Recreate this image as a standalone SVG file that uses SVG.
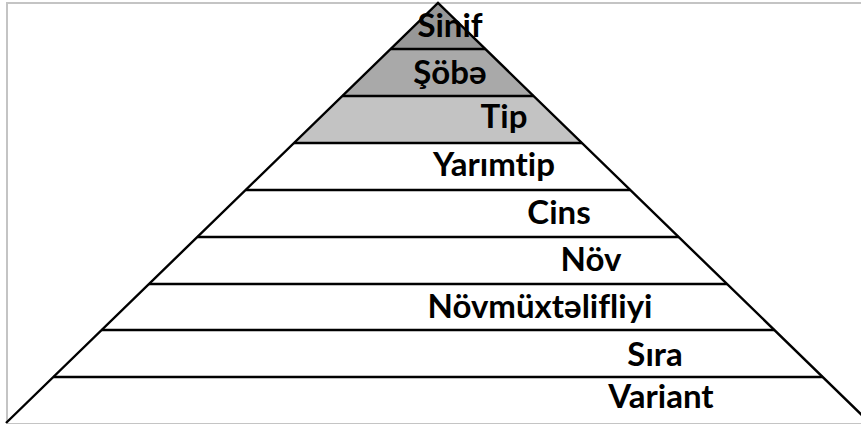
<svg xmlns="http://www.w3.org/2000/svg" width="861" height="427" viewBox="0 0 861 427">
<style>
.lbl{font-family:Lato,"Liberation Sans",sans-serif;font-weight:bold;font-size:33px;fill:#000;text-anchor:middle;font-variant-ligatures:none}
.band{stroke:none}
.edge{stroke:#000;stroke-width:2.4;fill:none}
.frame{stroke:#c4c4c4;stroke-width:2;fill:none}
</style>
<rect width="861" height="427" fill="#fff"/>
<g id="frame"><path class="frame" d="M7,423 V3 H861 M7,423 H861"/></g>
<g id="sinif"><polygon class="band" fill="#979797" points="438,3 485.3,49 390.7,49"/><text class="lbl" x="450" y="37">Sinif</text></g>
<g id="sobe"><polygon class="band" fill="#a9a9a9" points="390.7,49 485.3,49 533.7,96 342.3,96"/><text class="lbl" x="450" y="84">Şöbə</text></g>
<g id="tip"><polygon class="band" fill="#c3c3c3" points="342.3,96 533.7,96 582,143 294,143"/><text class="lbl" x="504" y="128">Tip</text></g>
<g id="yarimtip"><polygon class="band" fill="#fff" points="294,143 582,143 630.3,190 245.7,190"/><text class="lbl" x="494" y="176">Yarımtip</text></g>
<g id="cins"><polygon class="band" fill="#fff" points="245.7,190 630.3,190 678.7,237 197.3,237"/><text class="lbl" x="559" y="224">Cins</text></g>
<g id="nov"><polygon class="band" fill="#fff" points="197.3,237 678.7,237 727,284 149,284"/><text class="lbl" x="591" y="271">Növ</text></g>
<g id="novmuxtelifliyi"><polygon class="band" fill="#fff" points="149,284 727,284 774.4,330 101.6,330"/><text class="lbl" x="540" y="318">Növmüxtəlifliyi</text></g>
<g id="sira"><polygon class="band" fill="#fff" points="101.6,330 774.4,330 822.7,377 53.3,377"/><text class="lbl" x="655" y="366">Sıra</text></g>
<g id="variant"><polygon class="band" fill="#fff" points="53.3,377 822.7,377 870,423 6,423"/><text class="lbl" x="661" y="408">Variant</text></g>
<g id="connectors">
<path class="edge" d="M6,423 L438,3 L870,423"/>
<path class="edge" d="M390.7,49 H485.3 M342.3,96 H533.7 M294,143 H582 M245.7,190 H630.3 M197.3,237 H678.7 M149,284 H727 M101.6,330 H774.4 M53.3,377 H822.7"/>
</g>
</svg>
